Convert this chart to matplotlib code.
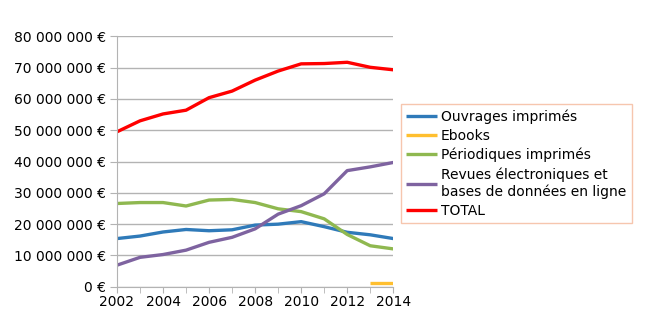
import numpy as np
import matplotlib.pyplot as plt
from matplotlib.ticker import FuncFormatter, MultipleLocator

years = list(range(2002, 2015))

ouvrages = [15.4, 16.2, 17.5, 18.3, 17.9, 18.2, 19.7, 20.0, 20.8, 19.2, 17.4, 16.6, 15.4]
periodiques = [26.6, 26.9, 26.9, 25.8, 27.7, 27.9, 26.9, 24.9, 24.0, 21.7, 16.7, 13.1, 12.1]
revues = [6.9, 9.4, 10.3, 11.7, 14.2, 15.8, 18.5, 23.2, 25.9, 29.7, 37.1, 38.3, 39.7]
total = [49.5, 53.0, 55.2, 56.4, 60.4, 62.5, 66.0, 68.9, 71.2, 71.3, 71.7, 70.1, 69.3]
ebooks_years = [2013, 2014]
ebooks = [1.1, 1.1]

series = [
    ("Ouvrages imprimés", years, ouvrages, "#2f7ab9"),
    ("Ebooks", ebooks_years, ebooks, "#ffbf2f"),
    ("Périodiques imprimés", years, periodiques, "#8fb850"),
    ("Revues électroniques et\nbases de données en ligne", years, revues, "#7e63a0"),
    ("TOTAL", years, total, "#ff0000"),
]

fig = plt.figure(figsize=(6.5, 3.27), dpi=100)
ax = fig.add_axes([0.18, 0.123, 0.425, 0.766])

for label, x, y, color in series:
    ax.plot(x, np.array(y) * 1e6, color=color, lw=2.4, label=label, solid_capstyle="butt")

ax.set_xlim(2002, 2014)
ax.set_ylim(0, 80e6)
ax.yaxis.set_major_locator(MultipleLocator(10e6))
ax.xaxis.set_major_locator(MultipleLocator(2))
ax.xaxis.set_minor_locator(MultipleLocator(1))


def euros(v, pos):
    return "{:,.0f} €".format(v).replace(",", " ")


ax.yaxis.set_major_formatter(FuncFormatter(euros))
ax.grid(axis="y", color="#b3b3b3", lw=1)
ax.set_axisbelow(True)
for side in ("top", "right"):
    ax.spines[side].set_visible(False)
for side in ("left", "bottom"):
    ax.spines[side].set_color("#b3b3b3")
ax.tick_params(axis="y", length=5, color="#b3b3b3", labelsize=10, pad=3)
ax.tick_params(axis="x", which="both", length=4, color="#b3b3b3", labelsize=10, pad=2)

leg = fig.legend(loc="upper left", bbox_to_anchor=(0.617, 0.682), fontsize=10,
                 frameon=True, fancybox=False, handlelength=2.2, handletextpad=0.3,
                 labelspacing=0.36, borderpad=0.38, borderaxespad=0)
leg.get_frame().set_edgecolor("#f4b89a")
leg.get_frame().set_linewidth(1)

fig.savefig("out.png", dpi=100)
